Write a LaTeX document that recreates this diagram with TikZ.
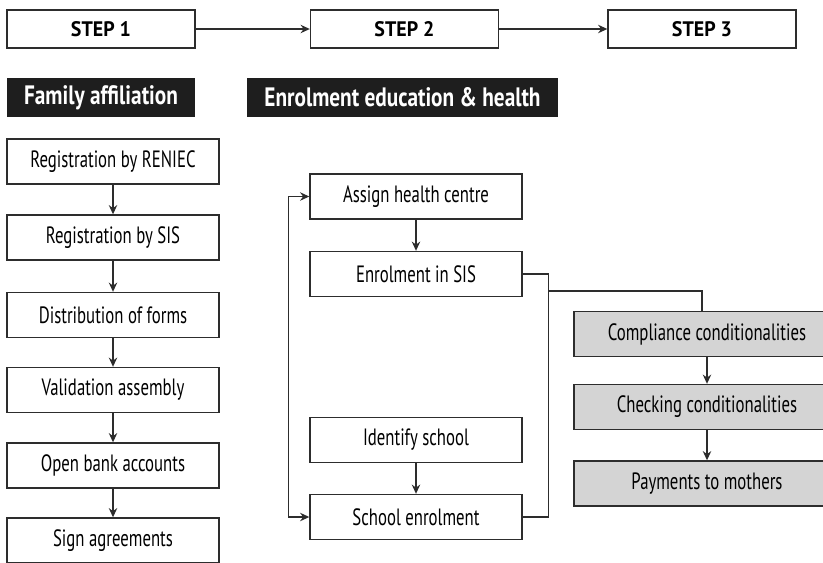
\documentclass[tikz,border=0pt]{standalone}
\usepackage{fontspec}
\setmainfont[FakeStretch=0.71, BoldFeatures={FakeStretch=0.8}]{PT Sans}
\newfontfamily\stepfont[FakeStretch=0.95]{PT Sans}
\usetikzlibrary{arrows.meta}
\usetikzlibrary{calc}
\definecolor{linegray}{RGB}{45,45,45}
\definecolor{condgray}{RGB}{212,212,212}
\definecolor{headblack}{RGB}{30,30,30}

\begin{document}
\begin{tikzpicture}[x=0.5pt, y=-0.5pt, >={Stealth[length=4.6pt,width=4.2pt]},
  stepbox/.style={draw=linegray, line width=0.7pt, minimum width=94pt, minimum height=19pt, inner sep=0pt, font=\stepfont\bfseries\fontsize{10.5}{12}\selectfont},
  headbox/.style={fill=headblack, text=white, minimum height=19.5pt, inner sep=0pt, font=\bfseries\fontsize{13.3}{15}\selectfont},
  task/.style={draw=linegray, line width=0.7pt, fill=white, minimum width=106pt, minimum height=22.5pt, inner sep=0pt, font=\fontsize{11.8}{13}\selectfont},
  paytask/.style={task, fill=condgray, minimum width=133pt},
  link/.style={line width=0.7pt, draw=linegray}]

\useasboundingbox (0,0) rectangle (823,562);

% steps
\node[stepbox] (s1) at (101,29) {STEP 1};
\node[stepbox] (s2) at (404.5,29) {STEP 2};
\node[stepbox] (s3) at (702,29) {STEP 3};
\draw[link,->] (s1) -- (s2);
\draw[link,->] (s2) -- (s3);

\node[headbox, minimum width=94pt] (h1) at (101,97.5) {Family affiliation};
\node[headbox, minimum width=155.5pt] (h2) at (402.5,97.5) {Enrolment education \& health};

% family affiliation
\node[task] (f1) at (113,161.5) {Registration by RENIEC};
\node[task] (f2) at (113,237.5) {Registration by SIS};
\node[task] (f3) at (113,315) {Distribution of forms};
\node[task] (f4) at (113,390) {Validation assembly};
\node[task] (f5) at (113,465.5) {Open bank accounts};
\node[task] (f6) at (113,540.5) {Sign agreements};
\draw[link,->] (f1) edge (f2);
\draw[link,->] (f2) edge (f3);
\draw[link,->] (f3) edge (f4);
\draw[link,->] (f4) edge (f5);
\draw[link,->] (f5) edge (f6);

% enrolment
\node[task] (e1) at (416,196.5) {Assign health centre};
\node[task] (e2) at (416,274) {Enrolment in SIS};
\node[task] (e3) at (416,440) {Identify school};
\node[task] (e4) at (416,517) {School enrolment};
\draw[link,->] (e1) edge (e2);
\draw[link,->] (e3) edge (e4);
\draw[link,<->] (e1.west) -- ++(-21,0) |- (e4.west);
\draw[link] (e2.east) -- ++(26,0) |- (e4.east);

% conditionalities
\node[paytask] (c1) at (707,334) {Compliance conditionalities};
\node[paytask] (c2) at (707,407) {Checking conditionalities};
\node[paytask] (c3) at (707,483.5) {Payments to mothers};
\draw[link,->] (c1) edge (c2);
\draw[link,->] (c2) edge (c3);
\coordinate (jn) at (548,291);
\draw[link] (jn) -| ($(c1.north)+(-5,0)$);
\end{tikzpicture}
\end{document}
